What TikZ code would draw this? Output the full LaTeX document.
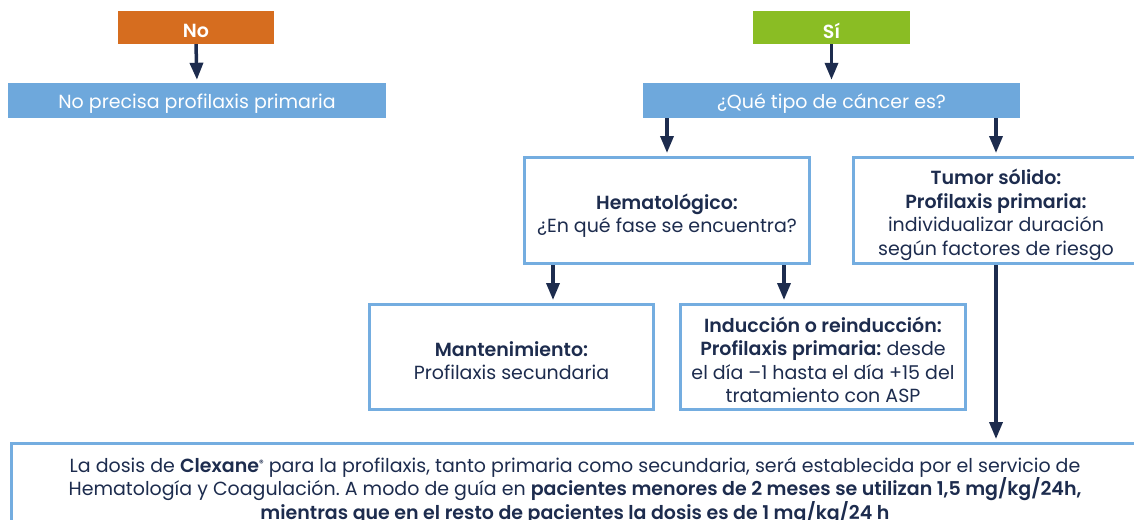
\documentclass[tikz,border=0pt]{standalone}
\usepackage{fontspec}
\setmainfont{Poppins}[BoldFont={Poppins SemiBold}]
\usetikzlibrary{arrows.meta}
\definecolor{navy}{HTML}{1D2C4E}
\definecolor{orng}{HTML}{D66D1F}
\definecolor{grn}{HTML}{8ABD24}
\definecolor{bfill}{HTML}{6EA8DC}
\definecolor{bbord}{HTML}{74ADE0}
\tikzset{
  head/.style={inner sep=0, minimum height=33pt},
  htx/.style={inner sep=0, text=white, font=\bfseries\fontsize{19}{22}\selectfont, yshift=-3pt},
  qbox/.style={fill=bfill, inner sep=0, minimum height=35pt},
  qtx/.style={inner sep=0, text=white, font=\fontsize{19}{22}\selectfont, yshift=-3.5pt},
  obox/.style={draw=bbord, line width=3pt, fill=white, inner sep=0},
  otx/.style={inner sep=0, align=center, text=navy, font=\fontsize{19}{23.5}\selectfont},
  arr/.style={draw=navy, line width=3.5pt, -{Triangle[width=13pt,length=17pt]}, shorten >=3pt},
}
\begin{document}
\frenchspacing
\begin{tikzpicture}[x=1pt,y=-1pt]
\useasboundingbox (0,0) rectangle (1134,519);
\clip (0,0) rectangle (1134,519);
\node[head, fill=orng, minimum width=156pt, label={[htx]center:No}] (no) at (196,27.5) {};
\node[head, fill=grn, minimum width=157pt, label={[htx]center:Sí}] (si) at (831.5,27.5) {};
\node[qbox, minimum width=378pt, label={[qtx]center:No precisa profilaxis primaria}] (noprec) at (197,100.5) {};
\node[qbox, minimum width=377pt, label={[qtx]center:¿Qué tipo de cáncer es?}] (que) at (831.5,100.5) {};
\node[obox, minimum width=285pt, minimum height=106pt, label={[otx, yshift=-5pt]center:{\textbf{Hematológico:}\\¿En qué fase se encuentra?}}] (hem) at (667,210.5) {};
\node[obox, minimum width=285pt, minimum height=106pt, label={[otx, yshift=-4.5pt]center:{\textbf{Tumor sólido:}\\\textbf{Profilaxis primaria:}\\individualizar duración\\según factores de riesgo}}] (tum) at (996,210.5) {};
\node[obox, minimum width=284pt, minimum height=105pt, label={[otx, yshift=-3.5pt]center:{\textbf{Mantenimiento:}\\Profilaxis secundaria}}] (mant) at (511.5,357) {};
\node[obox, minimum width=285pt, minimum height=105pt, label={[otx, yshift=-3pt]center:{\textbf{Inducción o reinducción:}\\\textbf{Profilaxis primaria:} desde\\el día –1 hasta el día +15 del\\tratamiento con ASP}}] (ind) at (823,357) {};
\node[obox, minimum width=1127pt, minimum height=95pt, label={[otx]center:{La dosis de \textbf{Clexane\raisebox{0.6ex}{\fontsize{9}{9}\selectfont ®}} para la profilaxis, tanto primaria como secundaria, será establecida por el servicio de\\Hematología y Coagulación. A modo de guía en \textbf{pacientes menores de 2 meses se utilizan 1,5 mg/kg/24h,}\\\textbf{mientras que en el resto de pacientes la dosis es de 1 mg/kg/24 h}}}] (bot) at (575,491) {};
\coordinate (h1) at (553,0);
\coordinate (h2) at (784,0);
\draw[arr] (no.south) -- (noprec.north);
\draw[arr] (si.south) -- (que.north);
\draw[arr] (que.south -| hem.north) -- (hem.north);
\draw[arr] (que.south -| tum.north) -- (tum.north);
\draw[arr] (hem.south -| h1) -- (mant.north -| h1);
\draw[arr] (hem.south -| h2) -- (ind.north -| h2);
\draw[arr] (tum.south) -- (bot.north -| tum.south);
\end{tikzpicture}
\end{document}
